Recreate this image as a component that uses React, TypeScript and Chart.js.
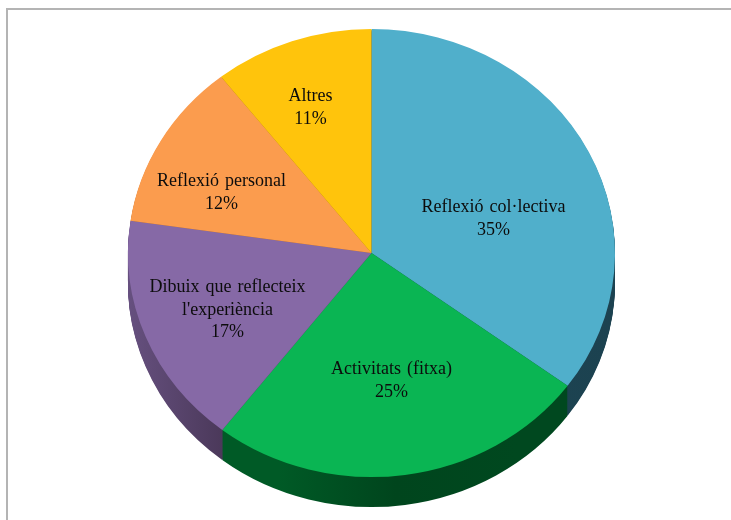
import React, { useEffect, useRef } from "react";
import { Chart, registerables } from "chart.js";

Chart.register(...registerables);

// Slice shares
const categories = ["Reflexió col·lectiva", "Activitats (fitxa)", "Dibuix que reflecteix\nl'experiència", "Reflexió personal", "Altres"];
const shares = [35.1, 25.4, 16.8, 12.1, 10.6];
const topColors = ["#50AFCB", "#0AB553", "#8669A6", "#FB9C4E", "#FFC40C"];
const wallColors = [
  ["#1F4A59", "#1C4250"],
  ["#005A26", "#00451D", "#00481F"],
  ["#66507F", "#4A3859"],
  ["#A0602C", "#A0602C"],
  ["#A07C05", "#A07C05"],
];

const W = 731;
const H = 520;
const RADIUS = 243.5;
const SQUASH = 0.92;
const DEPTH = 30;
const labelOffsets = [
  [122, -34],
  [20, 128],
  [-144, 57],
  [-150, -60],
  [-61, -145],
];
const WALL_ORDER = [4, 3, 0, 2, 1];

const pie3d = {
  id: "pie3d",
  beforeDraw(chart: any) {
    const { ctx } = chart;
    ctx.save();
    ctx.fillStyle = "#ffffff";
    ctx.fillRect(0, 0, W, H);
    ctx.strokeStyle = "#b4b4b4";
    ctx.lineWidth = 2;
    ctx.beginPath();
    ctx.moveTo(7, H);
    ctx.lineTo(7, 9);
    ctx.lineTo(W, 9);
    ctx.stroke();
    ctx.restore();
  },
  beforeDatasetsDraw(chart: any) {
    const { ctx } = chart;
    const arcs = chart.getDatasetMeta(0).data;
    const cx = arcs[0].x;
    const cy = arcs[0].y;
    ctx.save();
    ctx.translate(0, cy);
    ctx.scale(1, SQUASH);
    ctx.translate(0, -cy);
    for (const i of WALL_ORDER) {
      const arc = arcs[i];
      const stops = wallColors[i];
      const grad = ctx.createLinearGradient(cx - RADIUS, 0, cx + RADIUS, 0);
      if (i === 1) {
        grad.addColorStop(0.31, stops[0]);
        grad.addColorStop(0.55, stops[1]);
        grad.addColorStop(0.8, stops[2]);
      } else if (i === 2) {
        grad.addColorStop(0, stops[0]);
        grad.addColorStop(0.2, stops[1]);
      } else {
        grad.addColorStop(0, stops[0]);
        grad.addColorStop(1, stops[1]);
      }
      const saved = arc.options;
      arc.options = { ...saved, backgroundColor: grad, borderWidth: 0 };
      for (let d = DEPTH; d >= 1; d--) {
        ctx.save();
        ctx.translate(0, d / SQUASH);
        arc.draw(ctx);
        ctx.restore();
      }
      arc.options = saved;
    }
  },
  afterDatasetsDraw(chart: any) {
    const { ctx } = chart;
    ctx.restore();
    const arcs = chart.getDatasetMeta(0).data;
    const cx = arcs[0].x;
    const cy = arcs[0].y;
    const values = chart.data.datasets[0].data as number[];
    const total = values.reduce((a, b) => a + b, 0);
    ctx.save();
    ctx.fillStyle = "#0c0c0c";
    ctx.font = '18px "Liberation Serif"';
    (ctx as any).wordSpacing = "1.5px";
    ctx.textAlign = "center";
    ctx.textBaseline = "middle";
    (chart.data.labels as string[]).forEach((label, i) => {
      const lines = [...label.split("\n"), `${Math.round((values[i] / total) * 100)}%`];
      const [ox, oy] = labelOffsets[i];
      const lh = 22.5;
      lines.forEach((line, k) => {
        ctx.fillText(line, cx + ox, cy + oy + (k - (lines.length - 1) / 2) * lh);
      });
    });
    ctx.restore();
  },
};

export default function App() {
  const ref = useRef<HTMLCanvasElement>(null);
  useEffect(() => {
    const chart = new Chart(ref.current!, {
      type: "pie",
      data: {
        labels: categories,
        datasets: [{ data: shares, backgroundColor: topColors, borderWidth: 0 }],
      },
      options: {
        animation: false,
        responsive: false,
        devicePixelRatio: 1,
        radius: RADIUS,
        layout: { padding: { left: 12, bottom: 14 } },
        plugins: { legend: { display: false }, tooltip: { enabled: false } },
      },
      plugins: [pie3d],
    } as any);
    return () => chart.destroy();
  }, []);
  return (
    <canvas
      ref={ref}
      width={W}
      height={H}
      style={{ position: "absolute", left: 0, top: 0, display: "block" }}
    />
  );
}
